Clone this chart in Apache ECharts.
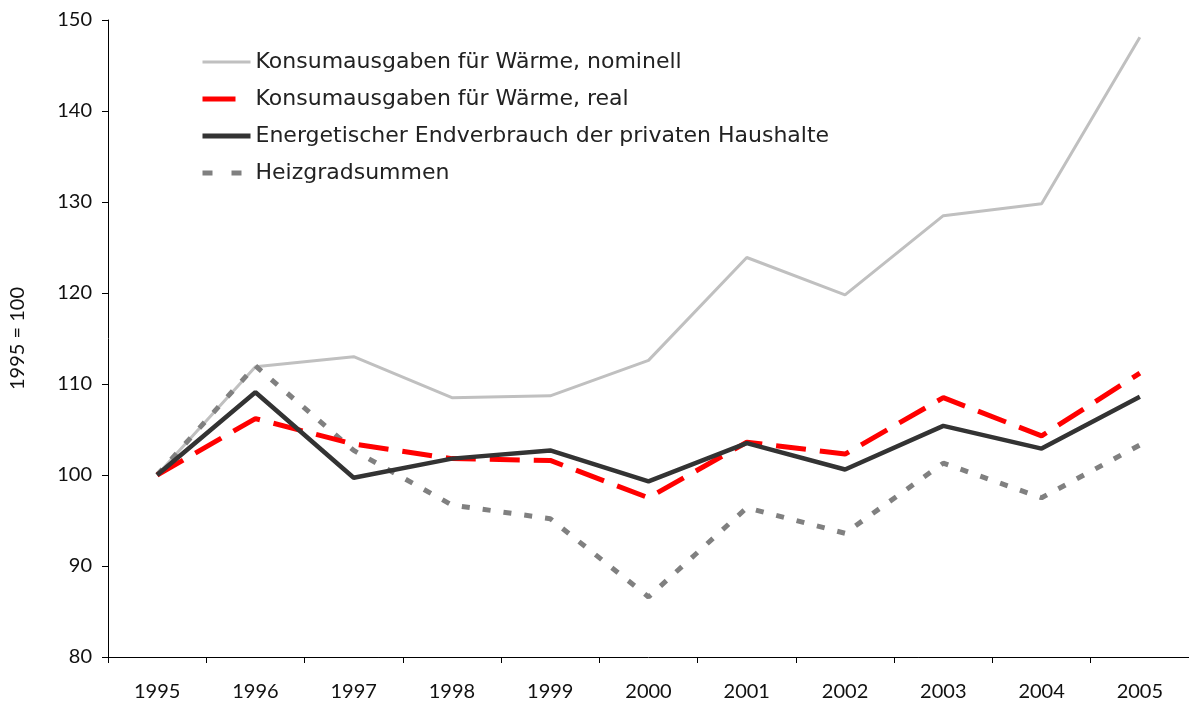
<!DOCTYPE html>
<html>
<head>
<meta charset="utf-8">
<title>Wärme</title>
<script src="https://cdn.jsdelivr.net/npm/echarts@6/dist/echarts.min.js"></script>
<style>
  html, body { margin: 0; padding: 0; background: #fff; }
  #main { width: 1189px; height: 704px; }
</style>
</head>
<body>
<div id="main"></div>
<script type="text/javascript">
// Jahre und Indexwerte (1995 = 100)
const years = ['1995', '1996', '1997', '1998', '1999', '2000', '2001', '2002', '2003', '2004', '2005'];
const nominal = [100, 111.9, 113.0, 108.5, 108.7, 112.6, 123.9, 119.8, 128.5, 129.8, 148.1];
const real = [100, 106.2, 103.4, 101.8, 101.6, 97.5, 103.6, 102.3, 108.5, 104.3, 111.2];
const verbrauch = [100, 109.1, 99.7, 101.8, 102.7, 99.3, 103.5, 100.6, 105.4, 102.9, 108.6];
const heizgrad = [100, 112.0, 102.7, 96.7, 95.2, 86.6, 96.4, 93.6, 101.3, 97.5, 103.3];

const names = [
  'Konsumausgaben für Wärme, nominell',
  'Konsumausgaben für Wärme, real',
  'Energetischer Endverbrauch der privaten Haushalte',
  'Heizgradsummen'
];

const font = 'Lato';
let myChart = echarts.init(document.getElementById('main'));

myChart.setOption({
  animation: false,
  textStyle: { fontFamily: font },
  grid: { left: 108, right: 0, top: 20, bottom: 47 },
  legend: {
    orient: 'vertical',
    left: 195,
    top: 46,
    itemWidth: 48,
    itemHeight: 14,
    itemGap: 15,
    itemStyle: { opacity: 0 },
    textStyle: { fontSize: 22, color: '#222', fontFamily: 'DejaVu Sans' },
    data: [
      { name: names[0], lineStyle: { width: 3, type: 'solid' } },
      { name: names[1], lineStyle: { width: 5, type: [33, 20] } },
      { name: names[2], lineStyle: { width: 5, type: 'solid' } },
      { name: names[3], lineStyle: { width: 5, type: [10, 19] } }
    ]
  },
  xAxis: {
    type: 'category',
    data: years,
    boundaryGap: true,
    axisLine: { lineStyle: { color: '#000', width: 1 } },
    axisTick: { show: true, length: 6, inside: false, lineStyle: { color: '#000' } },
    axisLabel: { fontSize: 20, color: '#111', margin: 25 }
  },
  yAxis: {
    type: 'value',
    min: 80,
    max: 150,
    interval: 10,
    name: '1995 = 100',
    nameLocation: 'middle',
    nameRotate: 90,
    nameGap: 80,
    nameTextStyle: { fontSize: 20, color: '#111' },
    axisLine: { show: true, lineStyle: { color: '#000', width: 1 } },
    axisTick: { show: true, length: 6, lineStyle: { color: '#000' } },
    axisLabel: { fontSize: 20, color: '#111', margin: 16 },
    splitLine: { show: false }
  },
  series: [
    {
      name: names[0],
      type: 'line',
      data: nominal,
      symbol: 'none',
      z: 1,
      lineStyle: { color: '#c0c0c0', width: 3 },
      itemStyle: { color: '#c0c0c0' }
    },
    {
      name: names[1],
      type: 'line',
      data: real,
      symbol: 'none',
      z: 3,
      lineStyle: { color: '#ff0000', width: 5, type: [30, 14] },
      itemStyle: { color: '#ff0000' }
    },
    {
      name: names[2],
      type: 'line',
      data: verbrauch,
      symbol: 'none',
      z: 4,
      lineStyle: { color: '#333333', width: 4.5 },
      itemStyle: { color: '#333333' }
    },
    {
      name: names[3],
      type: 'line',
      data: heizgrad,
      symbol: 'none',
      z: 2,
      lineStyle: { color: '#808080', width: 5, type: [8, 13] },
      itemStyle: { color: '#808080' }
    }
  ]
});
</script>
</body>
</html>
